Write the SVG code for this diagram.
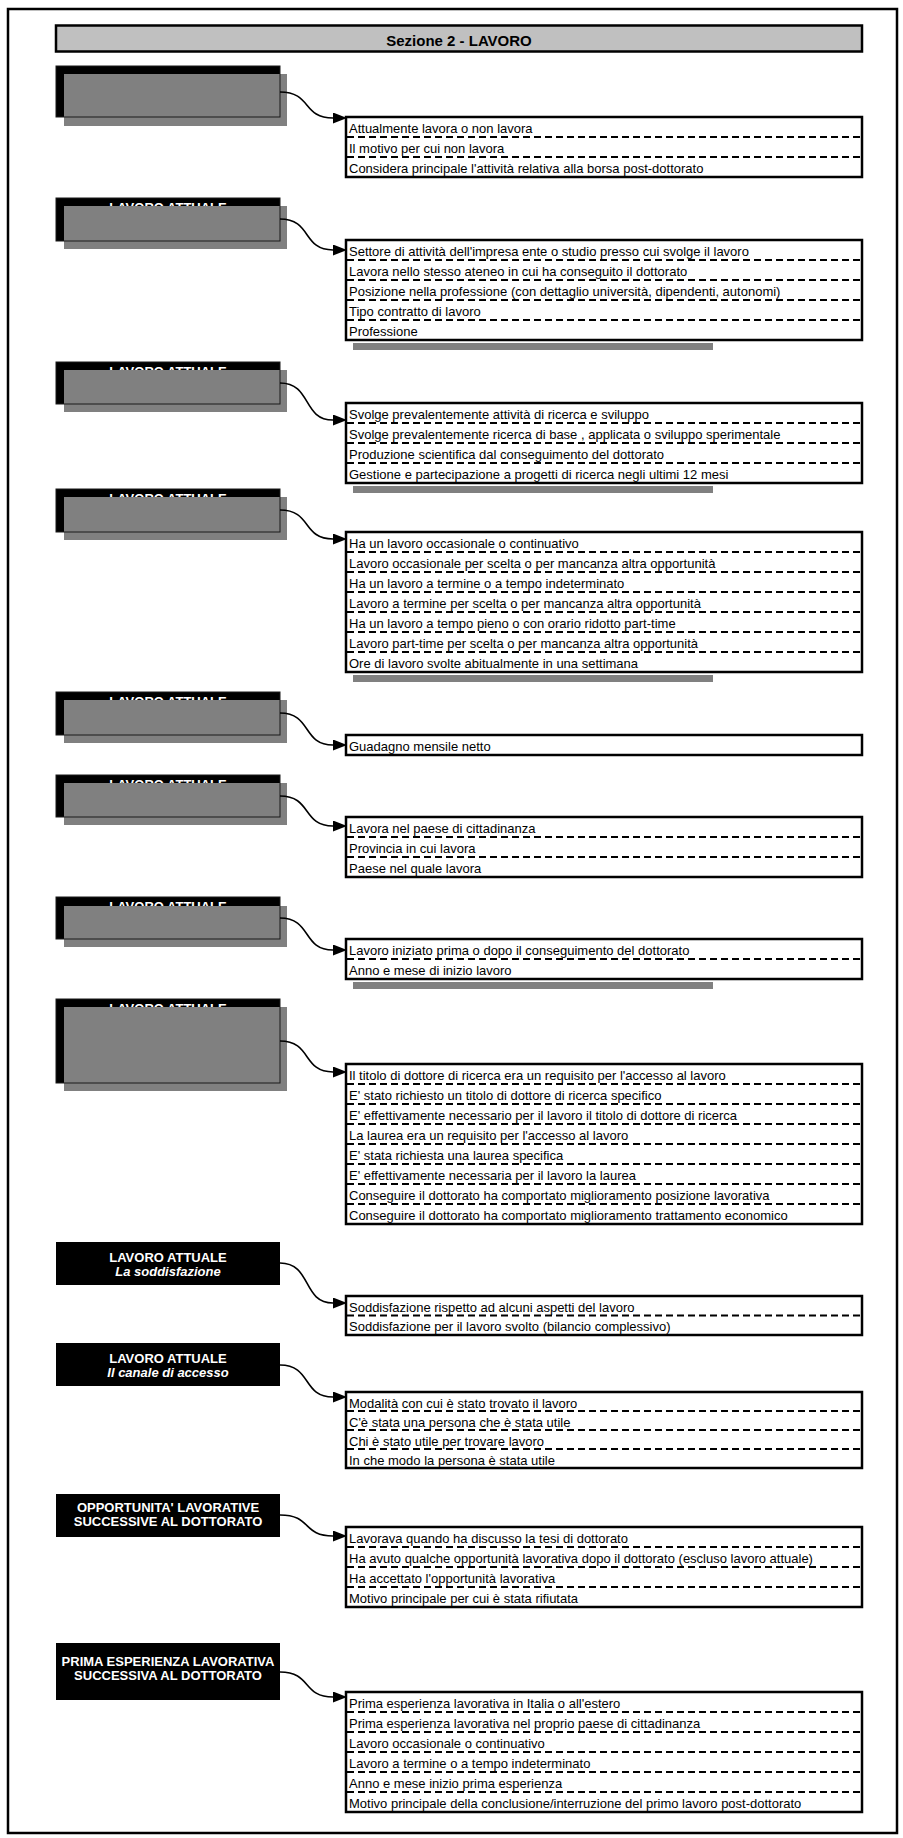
<svg xmlns="http://www.w3.org/2000/svg" width="903" height="1838" viewBox="0 0 903 1838">
<style>
.frame{fill:#fff;stroke:#000;stroke-width:2.5}
.hdr{fill:#c0c0c0;stroke:#000;stroke-width:2.5}
.hdrt{font-family:"Liberation Sans",Arial,sans-serif;font-size:15px;font-weight:bold;fill:#000;text-anchor:middle}
.blk{fill:#000}
.ovl{fill:#808080}
.edge{fill:none;stroke:#1a1a1a;stroke-width:1}
.ttl{font-family:"Liberation Sans",Arial,sans-serif;font-size:13px;font-weight:bold;fill:#fff;text-anchor:middle}
.sub{font-style:italic}
.lst{fill:#fff;stroke:#000;stroke-width:2.5}
.sep{stroke:#000;stroke-width:2;stroke-dasharray:7 4}
.row{font-family:"Liberation Sans",Arial,sans-serif;font-size:13px;fill:#000}
.bar{fill:#808080}
.con{fill:none;stroke:#000;stroke-width:1.6;marker-end:url(#arr)}
</style>
<defs>
<marker id="arr" markerUnits="userSpaceOnUse" markerWidth="15" markerHeight="12" refX="0" refY="5.5" orient="auto">
<path d="M0,0 L14,5.5 L0,11 z" fill="#000"/>
</marker>
</defs>
<rect class="frame" x="8" y="9" width="889" height="1824"/>
<g id="header">
<rect class="hdr" x="56" y="25.5" width="806" height="26"/>
<text class="hdrt" x="459" y="45.5">Sezione 2 - LAVORO</text>
</g>

<g id="node1">
<rect class="blk" x="56" y="66" width="224" height="51"/>
<rect class="ovl" x="64" y="74" width="223" height="52"/>
<rect class="edge" x="56" y="66" width="224" height="51"/>
</g>
<g id="list1">
<rect class="lst" x="346" y="117" width="516" height="60"/>
<line class="sep" x1="347" y1="137" x2="861" y2="137"/>
<line class="sep" x1="347" y1="157" x2="861" y2="157"/>
<text class="row" x="349" y="133">Attualmente lavora o non lavora</text>
<text class="row" x="349" y="153">Il motivo per cui non lavora</text>
<text class="row" x="349" y="173">Considera principale l'attività relativa alla borsa post-dottorato</text>
</g>

<g id="node2">
<rect class="blk" x="56" y="198" width="224" height="43"/>
<text class="ttl" x="168" y="211.5">LAVORO ATTUALE</text>
<rect class="ovl" x="64" y="206" width="223" height="43"/>
<rect class="edge" x="56" y="198" width="224" height="43"/>
</g>
<g id="list2">
<rect class="bar" x="353" y="343" width="360" height="7"/>
<rect class="lst" x="346" y="240" width="516" height="100"/>
<line class="sep" x1="347" y1="260" x2="861" y2="260"/>
<line class="sep" x1="347" y1="280" x2="861" y2="280"/>
<line class="sep" x1="347" y1="300" x2="861" y2="300"/>
<line class="sep" x1="347" y1="320" x2="861" y2="320"/>
<text class="row" x="349" y="256">Settore di attività dell'impresa ente o studio presso cui svolge il lavoro</text>
<text class="row" x="349" y="276">Lavora nello stesso ateneo in cui ha conseguito il dottorato</text>
<text class="row" x="349" y="296">Posizione nella professione (con dettaglio università, dipendenti, autonomi)</text>
<text class="row" x="349" y="316">Tipo contratto di lavoro</text>
<text class="row" x="349" y="336">Professione</text>
</g>

<g id="node3">
<rect class="blk" x="56" y="362" width="224" height="42"/>
<text class="ttl" x="168" y="375.5">LAVORO ATTUALE</text>
<rect class="ovl" x="64" y="370" width="223" height="42"/>
<rect class="edge" x="56" y="362" width="224" height="42"/>
</g>
<g id="list3">
<rect class="bar" x="353" y="486" width="360" height="7"/>
<rect class="lst" x="346" y="403" width="516" height="80"/>
<line class="sep" x1="347" y1="423" x2="861" y2="423"/>
<line class="sep" x1="347" y1="443" x2="861" y2="443"/>
<line class="sep" x1="347" y1="463" x2="861" y2="463"/>
<text class="row" x="349" y="419">Svolge prevalentemente attività di ricerca e sviluppo</text>
<text class="row" x="349" y="439">Svolge prevalentemente ricerca di base , applicata o sviluppo sperimentale</text>
<text class="row" x="349" y="459">Produzione scientifica dal conseguimento del dottorato</text>
<text class="row" x="349" y="479">Gestione e partecipazione a progetti di ricerca negli ultimi 12 mesi</text>
</g>

<g id="node4">
<rect class="blk" x="56" y="489" width="224" height="43"/>
<text class="ttl" x="168" y="502.5">LAVORO ATTUALE</text>
<rect class="ovl" x="64" y="497" width="223" height="43"/>
<rect class="edge" x="56" y="489" width="224" height="43"/>
</g>
<g id="list4">
<rect class="bar" x="353" y="675" width="360" height="7"/>
<rect class="lst" x="346" y="532" width="516" height="140"/>
<line class="sep" x1="347" y1="552" x2="861" y2="552"/>
<line class="sep" x1="347" y1="572" x2="861" y2="572"/>
<line class="sep" x1="347" y1="592" x2="861" y2="592"/>
<line class="sep" x1="347" y1="612" x2="861" y2="612"/>
<line class="sep" x1="347" y1="632" x2="861" y2="632"/>
<line class="sep" x1="347" y1="652" x2="861" y2="652"/>
<text class="row" x="349" y="548">Ha un lavoro occasionale o continuativo</text>
<text class="row" x="349" y="568">Lavoro occasionale per scelta o per mancanza altra opportunità</text>
<text class="row" x="349" y="588">Ha un lavoro a termine o a tempo indeterminato</text>
<text class="row" x="349" y="608">Lavoro a termine per scelta o per mancanza altra opportunità</text>
<text class="row" x="349" y="628">Ha un lavoro a tempo pieno o con orario ridotto part-time</text>
<text class="row" x="349" y="648">Lavoro part-time per scelta o per mancanza altra opportunità</text>
<text class="row" x="349" y="668">Ore di lavoro svolte abitualmente in una settimana</text>
</g>

<g id="node5">
<rect class="blk" x="56" y="692" width="224" height="43"/>
<text class="ttl" x="168" y="705.5">LAVORO ATTUALE</text>
<rect class="ovl" x="64" y="700" width="223" height="43"/>
<rect class="edge" x="56" y="692" width="224" height="43"/>
</g>
<g id="list5">
<rect class="lst" x="346" y="735" width="516" height="20"/>
<text class="row" x="349" y="751">Guadagno mensile netto</text>
</g>

<g id="node6">
<rect class="blk" x="56" y="775" width="224" height="42"/>
<text class="ttl" x="168" y="788.5">LAVORO ATTUALE</text>
<rect class="ovl" x="64" y="783" width="223" height="42"/>
<rect class="edge" x="56" y="775" width="224" height="42"/>
</g>
<g id="list6">
<rect class="lst" x="346" y="817" width="516" height="60"/>
<line class="sep" x1="347" y1="837" x2="861" y2="837"/>
<line class="sep" x1="347" y1="857" x2="861" y2="857"/>
<text class="row" x="349" y="833">Lavora nel paese di cittadinanza</text>
<text class="row" x="349" y="853">Provincia in cui lavora</text>
<text class="row" x="349" y="873">Paese nel quale lavora</text>
</g>

<g id="node7">
<rect class="blk" x="56" y="897" width="224" height="42"/>
<text class="ttl" x="168" y="910.5">LAVORO ATTUALE</text>
<rect class="ovl" x="64" y="906" width="223" height="41"/>
<rect class="edge" x="56" y="897" width="224" height="42"/>
</g>
<g id="list7">
<rect class="bar" x="353" y="982" width="360" height="7"/>
<rect class="lst" x="346" y="939" width="516" height="40"/>
<line class="sep" x1="347" y1="959" x2="861" y2="959"/>
<text class="row" x="349" y="955">Lavoro iniziato prima o dopo il conseguimento del dottorato</text>
<text class="row" x="349" y="975">Anno e mese di inizio lavoro</text>
</g>

<g id="node8">
<rect class="blk" x="56" y="999" width="224" height="84"/>
<text class="ttl" x="168" y="1012.5">LAVORO ATTUALE</text>
<rect class="ovl" x="64" y="1007" width="223" height="84"/>
<rect class="edge" x="56" y="999" width="224" height="84"/>
</g>
<g id="list8">
<rect class="lst" x="346" y="1064" width="516" height="160"/>
<line class="sep" x1="347" y1="1084" x2="861" y2="1084"/>
<line class="sep" x1="347" y1="1104" x2="861" y2="1104"/>
<line class="sep" x1="347" y1="1124" x2="861" y2="1124"/>
<line class="sep" x1="347" y1="1144" x2="861" y2="1144"/>
<line class="sep" x1="347" y1="1164" x2="861" y2="1164"/>
<line class="sep" x1="347" y1="1184" x2="861" y2="1184"/>
<line class="sep" x1="347" y1="1204" x2="861" y2="1204"/>
<text class="row" x="349" y="1080">Il titolo di dottore di ricerca era un requisito per l'accesso al lavoro</text>
<text class="row" x="349" y="1100">E' stato richiesto un titolo di dottore di ricerca specifico</text>
<text class="row" x="349" y="1120">E' effettivamente necessario per il lavoro il titolo di dottore di ricerca</text>
<text class="row" x="349" y="1140">La laurea era un requisito per l'accesso al lavoro</text>
<text class="row" x="349" y="1160">E' stata richiesta una laurea specifica</text>
<text class="row" x="349" y="1180">E' effettivamente necessaria per il lavoro la laurea</text>
<text class="row" x="349" y="1200">Conseguire il dottorato ha comportato miglioramento posizione lavorativa</text>
<text class="row" x="349" y="1220">Conseguire il dottorato ha comportato miglioramento trattamento economico</text>
</g>

<g id="node9">
<rect class="blk" x="56" y="1242" width="224" height="43"/>
<text class="ttl" x="168" y="1262">LAVORO ATTUALE</text>
<text class="ttl sub" x="168" y="1276">La soddisfazione</text>
</g>
<g id="list9">
<rect class="lst" x="346" y="1296" width="516" height="39"/>
<line class="sep" x1="347" y1="1315.5" x2="861" y2="1315.5"/>
<text class="row" x="349" y="1311.5">Soddisfazione rispetto ad alcuni aspetti del lavoro</text>
<text class="row" x="349" y="1331">Soddisfazione per il lavoro svolto (bilancio complessivo)</text>
</g>

<g id="node10">
<rect class="blk" x="56" y="1343" width="224" height="43"/>
<text class="ttl" x="168" y="1363">LAVORO ATTUALE</text>
<text class="ttl sub" x="168" y="1377">Il canale di accesso</text>
</g>
<g id="list10">
<rect class="lst" x="346" y="1392" width="516" height="76"/>
<line class="sep" x1="347" y1="1411" x2="861" y2="1411"/>
<line class="sep" x1="347" y1="1430" x2="861" y2="1430"/>
<line class="sep" x1="347" y1="1449" x2="861" y2="1449"/>
<text class="row" x="349" y="1407.5">Modalità con cui è stato trovato il lavoro</text>
<text class="row" x="349" y="1426.5">C'è stata una persona che è stata utile</text>
<text class="row" x="349" y="1445.5">Chi è stato utile per trovare lavoro</text>
<text class="row" x="349" y="1464.5">In che modo la persona è stata utile</text>
</g>

<g id="node11">
<rect class="blk" x="56" y="1494" width="224" height="43"/>
<text class="ttl" x="168" y="1512">OPPORTUNITA' LAVORATIVE</text>
<text class="ttl" x="168" y="1526">SUCCESSIVE AL DOTTORATO</text>
</g>
<g id="list11">
<rect class="lst" x="346" y="1527" width="516" height="80"/>
<line class="sep" x1="347" y1="1547" x2="861" y2="1547"/>
<line class="sep" x1="347" y1="1567" x2="861" y2="1567"/>
<line class="sep" x1="347" y1="1587" x2="861" y2="1587"/>
<text class="row" x="349" y="1543">Lavorava quando ha discusso la tesi di dottorato</text>
<text class="row" x="349" y="1563">Ha avuto qualche opportunità lavorativa dopo il dottorato (escluso lavoro attuale)</text>
<text class="row" x="349" y="1583">Ha accettato l'opportunità lavorativa</text>
<text class="row" x="349" y="1603">Motivo principale per cui è stata rifiutata</text>
</g>

<g id="node12">
<rect class="blk" x="56" y="1643" width="224" height="57"/>
<text class="ttl" x="168" y="1666">PRIMA ESPERIENZA LAVORATIVA</text>
<text class="ttl" x="168" y="1680">SUCCESSIVA AL DOTTORATO</text>
</g>
<g id="list12">
<rect class="lst" x="346" y="1692" width="516" height="120"/>
<line class="sep" x1="347" y1="1712" x2="861" y2="1712"/>
<line class="sep" x1="347" y1="1732" x2="861" y2="1732"/>
<line class="sep" x1="347" y1="1752" x2="861" y2="1752"/>
<line class="sep" x1="347" y1="1772" x2="861" y2="1772"/>
<line class="sep" x1="347" y1="1792" x2="861" y2="1792"/>
<text class="row" x="349" y="1708">Prima esperienza lavorativa in Italia o all'estero</text>
<text class="row" x="349" y="1728">Prima esperienza lavorativa nel proprio paese di cittadinanza</text>
<text class="row" x="349" y="1748">Lavoro occasionale o continuativo</text>
<text class="row" x="349" y="1768">Lavoro a termine o a tempo indeterminato</text>
<text class="row" x="349" y="1788">Anno e mese inizio prima esperienza</text>
<text class="row" x="349" y="1808">Motivo principale della conclusione/interruzione del primo lavoro post-dottorato</text>
</g>

<g id="connectors">
<path class="con" d="M280,92 C312,92 302,118 333,118"/>
<path class="con" d="M280,219 C312,219 302,250 333,250"/>
<path class="con" d="M280,383 C312,383 302,420 333,420"/>
<path class="con" d="M280,510 C312,510 302,539 333,539"/>
<path class="con" d="M280,713 C312,713 302,745 333,745"/>
<path class="con" d="M280,796 C312,796 302,826 333,826"/>
<path class="con" d="M280,918 C312,918 302,950 333,950"/>
<path class="con" d="M280,1041 C312,1041 302,1072 333,1072"/>
<path class="con" d="M280,1263 C312,1263 302,1303 333,1303"/>
<path class="con" d="M280,1365 C312,1365 302,1397 333,1397"/>
<path class="con" d="M280,1515 C312,1515 302,1536 333,1536"/>
<path class="con" d="M280,1672 C312,1672 302,1697 333,1697"/>
</g>
</svg>
